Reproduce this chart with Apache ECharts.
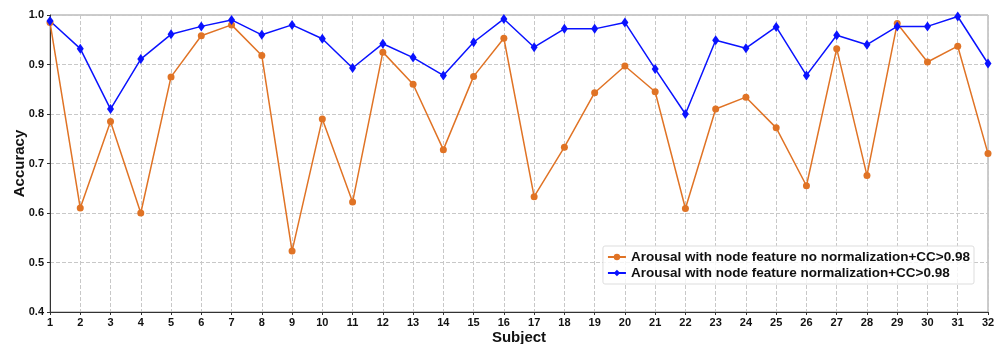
<!DOCTYPE html>
<html>
<head>
<meta charset="utf-8">
<script src="https://cdn.jsdelivr.net/npm/echarts@6/dist/echarts.min.js"></script>
<style>
  html, body { margin: 0; padding: 0; background: #fff; }
  #main { width: 999px; height: 344px; }
</style>
</head>
<body>
<div id="main"></div>
<script>
const subjects = [];
for (let i = 1; i <= 32; i++) subjects.push(String(i));

// no normalization (orange)
const noNorm = [0.985, 0.61, 0.785, 0.60, 0.875, 0.958, 0.98, 0.918, 0.523, 0.79,
  0.622, 0.925, 0.86, 0.728, 0.876, 0.953, 0.633, 0.733, 0.843, 0.897,
  0.845, 0.609, 0.81, 0.834, 0.772, 0.655, 0.932, 0.676, 0.983, 0.905,
  0.937, 0.72];
// normalization (blue)
const norm = [0.988, 0.932, 0.81, 0.911, 0.961, 0.977, 0.99, 0.96, 0.98, 0.952,
  0.893, 0.942, 0.914, 0.878, 0.945, 0.992, 0.935, 0.972, 0.972, 0.985,
  0.891, 0.80, 0.949, 0.933, 0.976, 0.878, 0.959, 0.94, 0.977, 0.977,
  0.997, 0.902];

const chart = echarts.init(document.getElementById("main"));
const font = "Liberation Sans, Arial, sans-serif";

chart.setOption({
  animation: false,
  textStyle: { fontFamily: font },
  grid: {
    left: 50, right: 11, top: 15, bottom: 32,
    outerBoundsMode: "none",
    containLabel: false,
    show: true, borderColor: "#999", borderWidth: 1,
  },
  legend: {
    right: 25, top: 246,
    orient: "vertical",
    itemGap: 2,
    itemWidth: 18, itemHeight: 8,
    padding: [4, 4],
    borderColor: "#ddd", borderWidth: 1, borderRadius: 2,
    backgroundColor: "rgba(255,255,255,0.8)",
    textStyle: { fontSize: 13.5, fontWeight: "bold", color: "#111", fontFamily: font },
    data: [
      "Arousal with node feature no normalization+CC>0.98",
      "Arousal with node feature normalization+CC>0.98",
    ],
  },
  xAxis: {
    type: "category",
    data: subjects,
    boundaryGap: false,
    name: "Subject",
    nameLocation: "middle",
    nameGap: 18,
    nameMoveOverlap: false,
    nameTextStyle: { fontSize: 15, fontWeight: "bold", color: "#111" },
    axisLine: { lineStyle: { color: "#333" } },
    axisTick: { show: true, length: 3, lineStyle: { color: "#333" } },
    axisLabel: { interval: 0, fontSize: 11, fontWeight: "bold", color: "#111", margin: 5 },
    splitLine: { show: true, lineStyle: { type: "dashed", color: "#c8c8c8" } },
  },
  yAxis: {
    type: "value",
    min: 0.4, max: 1.0, interval: 0.1,
    name: "Accuracy",
    nameLocation: "middle",
    nameGap: 23,
    nameMoveOverlap: false,
    nameTextStyle: { fontSize: 15, fontWeight: "bold", color: "#111" },
    axisLine: { show: true, lineStyle: { color: "#333" } },
    axisTick: { show: true, length: 3, lineStyle: { color: "#333" } },
    axisLabel: {
      fontSize: 11, fontWeight: "bold", color: "#111", margin: 6,
      formatter: (v) => v.toFixed(1),
    },
    splitLine: { show: true, lineStyle: { type: "dashed", color: "#c8c8c8" } },
  },
  series: [
    {
      name: "Arousal with node feature no normalization+CC>0.98",
      type: "line",
      data: noNorm,
      symbol: "circle",
      symbolSize: 7,
      itemStyle: { color: "#e07325" },
      lineStyle: { color: "#e07325", width: 1.5 },
    },
    {
      name: "Arousal with node feature normalization+CC>0.98",
      type: "line",
      data: norm,
      symbol: "diamond",
      symbolSize: [7, 10],
      itemStyle: { color: "#0a12ff" },
      lineStyle: { color: "#0a12ff", width: 1.5 },
    },
  ],
});
</script>
</body>
</html>
